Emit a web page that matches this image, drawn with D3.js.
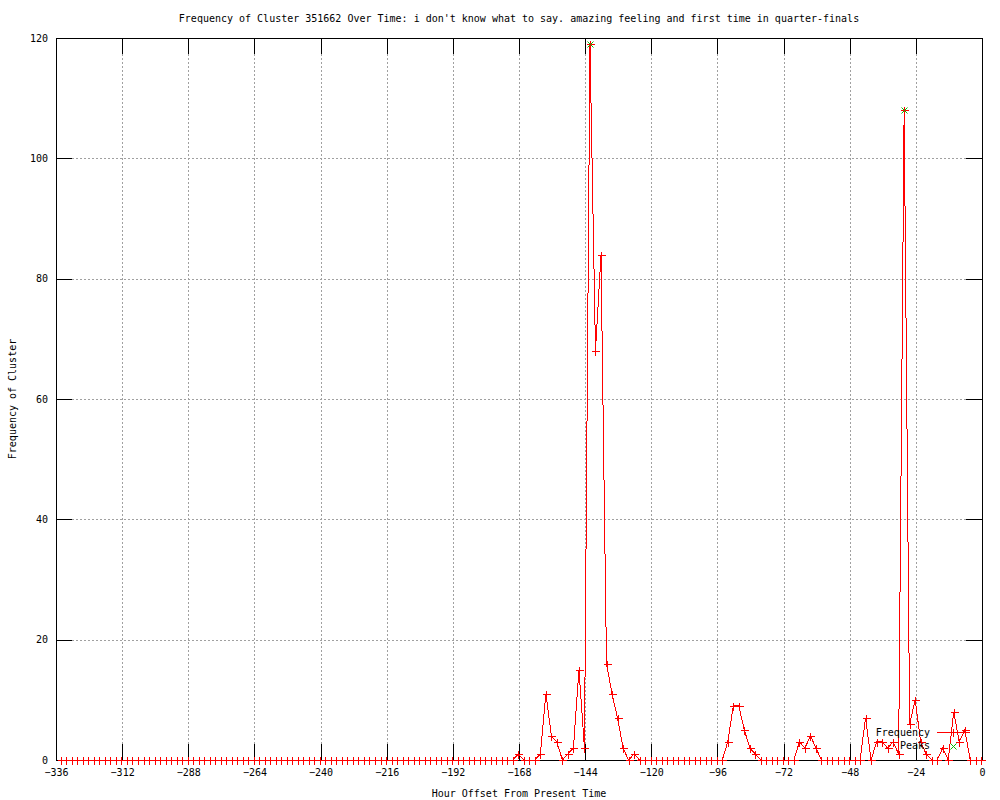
<!DOCTYPE html>
<html lang="en">
<head>
    <meta charset="UTF-8">
    <title>Frequency of Cluster 351662</title>
    <script src="https://cdn.jsdelivr.net/npm/d3@7/dist/d3.min.js"></script>
    <style>
        body { margin: 0; background: #fff; }
        text { font-family: "DejaVu Sans Mono", "Liberation Mono", monospace; font-size: 10px; fill: #000; }
    </style>
</head>
<body>
<svg id="svg" width="1000" height="800"></svg>
<script>
    // 数据：每2小时一个点
    var hours = d3.range(168).map(function (i) { return -334.25 + 2 * i; });
    var freq = [
        0, 0, 0, 0, 0, 0, 0, 0, 0, 0, 0, 0,
        0, 0, 0, 0, 0, 0, 0, 0, 0, 0, 0, 0,
        0, 0, 0, 0, 0, 0, 0, 0, 0, 0, 0, 0,
        0, 0, 0, 0, 0, 0, 0, 0, 0, 0, 0, 0,
        0, 0, 0, 0, 0, 0, 0, 0, 0, 0, 0, 0,
        0, 0, 0, 0, 0, 0, 0, 0, 0, 0, 0, 0,
        0, 0, 0, 0, 0, 0, 0, 0, 0, 0, 0, 1,
        0, 0, 0, 1, 11, 4, 3, 0, 1, 2, 15, 2,
        119, 68, 84, 16, 11, 7, 2, 0, 1, 0, 0, 0,
        0, 0, 0, 0, 0, 0, 0, 0, 0, 0, 0, 0,
        0, 3, 9, 9, 5, 2, 1, 0, 0, 0, 0, 0,
        0, 0, 3, 2, 4, 2, 0, 0, 0, 0, 0, 0,
        0, 0, 7, 0, 3, 3, 2, 3, 1, 108, 6, 10,
        3, 1, 0, 0, 2, 0, 8, 3, 5, 0, 0, 0
    ];
    var peakHours = [-142.25, -28.25];
    var peakFreq = [119, 108];
    var xTicks = d3.range(-336, 1, 24);
    var yTicks = [0, 20, 40, 60, 80, 100, 120];

    var chartTitle = "Frequency of Cluster 351662 Over Time: i don't know what to say. amazing feeling and first time in quarter-finals";

    function drawChart() {
        var pl = 56, pr = 982, pt = 38, pb = 760;
        var svg = d3.select("#svg");

        var x = d3.scaleLinear().domain([-336, 0]).range([pl, pr]);
        var y = d3.scaleLinear().domain([0, 120]).range([pb, pt]);

        // 网格
        var grid = svg.append("g")
            .attr("stroke", "#a0a0a0").attr("stroke-dasharray", "2,2")
            .attr("shape-rendering", "crispEdges");
        grid.selectAll("line.gx")
            .data(xTicks.filter(function (d) { return d > -336 && d < 0; }))
            .enter().append("line").attr("class", "gx")
            .attr("x1", function (d) { return x(d) + 0.5; })
            .attr("x2", function (d) { return x(d) + 0.5; })
            .attr("y1", pt).attr("y2", pb);
        grid.selectAll("line.gy")
            .data(yTicks.filter(function (d) { return d > 0 && d < 120; }))
            .enter().append("line").attr("class", "gy")
            .attr("y1", function (d) { return y(d) + 0.5; })
            .attr("y2", function (d) { return y(d) + 0.5; })
            .attr("x1", pl).attr("x2", pr);

        // 坐标轴（含上、右镜像刻度）
        function styleAxis(g) {
            g.select(".domain").remove();
            g.selectAll("line").attr("stroke", "#000").attr("shape-rendering", "crispEdges");
            g.selectAll("text").attr("fill", "#000")
                .style("font-family", "DejaVu Sans Mono").style("font-size", "10px");
        }

        svg.append("g").attr("transform", "translate(0," + pb + ")")
            .call(d3.axisBottom(x).tickValues(xTicks).tickSizeInner(-16).tickSizeOuter(0).tickPadding(9))
            .call(styleAxis);
        svg.append("g").attr("transform", "translate(0," + pt + ")")
            .call(d3.axisTop(x).tickValues(xTicks).tickSizeInner(-16).tickSizeOuter(0).tickFormat(""))
            .call(styleAxis);
        svg.append("g").attr("transform", "translate(" + pl + ",0)")
            .call(d3.axisLeft(y).tickValues(yTicks).tickSizeInner(-16).tickSizeOuter(0).tickPadding(8))
            .call(styleAxis);
        svg.append("g").attr("transform", "translate(" + pr + ",0)")
            .call(d3.axisRight(y).tickValues(yTicks).tickSizeInner(-16).tickSizeOuter(0).tickFormat(""))
            .call(styleAxis);

        // 边框
        svg.append("rect")
            .attr("x", pl + 0.5).attr("y", pt + 0.5)
            .attr("width", pr - pl).attr("height", pb - pt)
            .attr("fill", "none").attr("stroke", "#000")
            .attr("shape-rendering", "crispEdges");

        // 标题与轴标题
        svg.append("text").attr("x", (pl + pr) / 2).attr("y", 22)
            .attr("text-anchor", "middle").text(chartTitle);
        svg.append("text").attr("x", (pl + pr) / 2).attr("y", 797)
            .attr("text-anchor", "middle").text("Hour Offset From Present Time");
        svg.append("text").attr("transform", "translate(16," + ((pt + pb) / 2) + ") rotate(-90)")
            .attr("text-anchor", "middle").text("Frequency of Cluster");

        // 频率折线
        var pts = hours.map(function (h, i) { return [h, freq[i]]; });
        var line = d3.line()
            .x(function (d) { return x(d[0]); })
            .y(function (d) { return y(d[1]); });

        var plot = svg.append("g");
        plot.append("path")
            .datum(pts)
            .attr("d", line)
            .attr("fill", "none").attr("stroke", "#ff0000").attr("stroke-width", 1)
            .attr("shape-rendering", "crispEdges");

        var plus = "M-4,0H4M0,-4V4";
        var cross = "M-3,-3L3,3M-3,3L3,-3";

        plot.selectAll("path.pt")
            .data(pts)
            .enter().append("path")
            .attr("class", "pt")
            .attr("d", plus)
            .attr("transform", function (d) {
                return "translate(" + (Math.round(x(d[0])) + 0.5) + "," + (Math.round(y(d[1])) + 0.5) + ")";
            })
            .attr("stroke", "#ff0000").attr("fill", "none")
            .attr("shape-rendering", "crispEdges");

        // 峰值
        plot.selectAll("path.peak")
            .data(peakHours)
            .enter().append("path")
            .attr("class", "peak")
            .attr("d", cross)
            .attr("transform", function (d, i) {
                return "translate(" + (Math.round(x(d)) + 0.5) + "," + (Math.round(y(peakFreq[i])) + 0.5) + ")";
            })
            .attr("stroke", "#00c000").attr("fill", "none");

        // 图例
        var key = svg.append("g");
        key.append("text").attr("x", 930).attr("y", 736).attr("text-anchor", "end").text("Frequency");
        key.append("line").attr("x1", 937).attr("x2", 970).attr("y1", 732.5).attr("y2", 732.5)
            .attr("stroke", "#ff0000").attr("shape-rendering", "crispEdges");
        key.append("path").attr("d", plus).attr("transform", "translate(953.5,732.5)")
            .attr("stroke", "#ff0000").attr("shape-rendering", "crispEdges");
        key.append("text").attr("x", 930).attr("y", 749).attr("text-anchor", "end").text("Peaks");
        key.append("path").attr("d", cross).attr("transform", "translate(953.5,746.5)")
            .attr("stroke", "#00c000");
    }

    drawChart();
</script>
</body>
</html>
